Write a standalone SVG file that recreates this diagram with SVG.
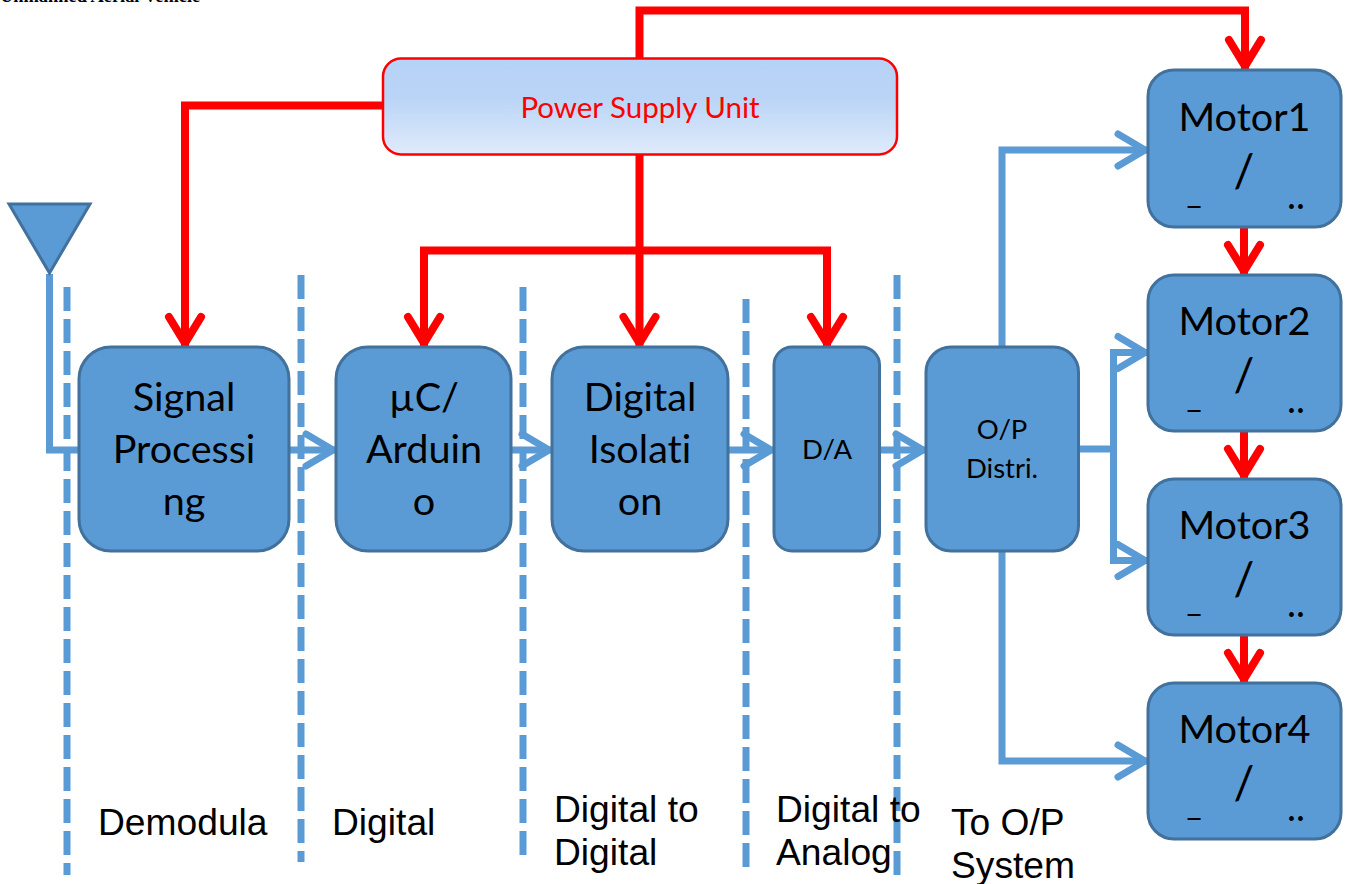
<svg xmlns="http://www.w3.org/2000/svg" width="1349" height="884" viewBox="0 0 1349 884">
<style>
.box{fill:#5b9bd5;stroke:#41719c;stroke-width:3}
.t{font-family:Lato,"Open Sans",sans-serif;fill:#000;text-anchor:middle;font-variant-ligatures:none}
.big{font-size:39.6px}
.slash{font-size:46px}
.mid{font-size:27.5px}
.us{font-size:33px}
.dots{font-size:38px}
.lab{font-family:"Liberation Sans",Arial,sans-serif;font-size:37.2px;fill:#000}
.dash{fill:none;stroke:#5b9bd5;stroke-width:7;stroke-dasharray:24 8}
.blue{fill:none;stroke:#5b9bd5;stroke-width:7;stroke-linejoin:miter;marker-end:url(#ab)}
.blue0{fill:none;stroke:#5b9bd5;stroke-width:7}
.red{fill:none;stroke:#f00;stroke-width:8;marker-end:url(#ar)}
</style>
<defs>
<linearGradient id="psu" x1="0" y1="0" x2="0" y2="1">
<stop offset="0" stop-color="#b6d2f6"/><stop offset="0.4" stop-color="#b9d4f6"/><stop offset="1" stop-color="#e0ebfb"/>
</linearGradient>
<marker id="ab" markerUnits="userSpaceOnUse" markerWidth="44" markerHeight="50" viewBox="-38 -25 44 50" refX="0" refY="0" orient="auto" overflow="visible">
<path d="M-30-16 -3 0 -30 16" fill="none" stroke="#5b9bd5" stroke-width="7" stroke-linecap="round" stroke-linejoin="miter" stroke-miterlimit="10"/>
</marker>
<marker id="ar" markerUnits="userSpaceOnUse" markerWidth="44" markerHeight="50" viewBox="-38 -25 44 50" refX="0" refY="0" orient="auto" overflow="visible">
<path d="M-30-16 -4 0 -30 16" fill="none" stroke="#f00" stroke-width="8" stroke-linecap="round" stroke-linejoin="miter" stroke-miterlimit="10"/>
</marker>
</defs>
<rect width="1349" height="884" fill="#fff"/>
<text x="0" y="2" font-family="Liberation Serif,serif" font-size="18.400" font-weight="bold" fill="#000">Unmanned Aerial Vehicle</text>
<g id="separators">
<path class="dash" d="M67 287V875"/>
<path class="dash" d="M301 275V862"/>
<path class="dash" d="M523 287V855"/>
<path class="dash" d="M746 299V867"/>
<path class="dash" d="M897 275V875"/>
</g>
<g id="connectors">
<path class="blue0" d="M49.500 274V450H79"/>
<path class="blue" d="M289 450H336"/>
<path class="blue" d="M511 450H552"/>
<path class="blue" d="M728 450H774"/>
<path class="blue" d="M880 450H926"/>
<path class="blue" d="M1002 347V150H1148"/>
<path class="blue" d="M1002 551V761H1148"/>
<path class="blue0" d="M1079 449H1117"/>
<path class="blue" d="M1148 352.500H1113.500V560.500H1148"/>
<path class="blue" d="M1113.500 352.500H1148"/>
<path class="red" d="M639.500 58V10.500H1245V70"/>
<path class="red" d="M383 105.500H185V347"/>
<path class="red" d="M639.500 154V347"/>
<path class="red" d="M639.500 250.500H424V347"/>
<path class="red" d="M639.500 250.500H827V347"/>
<path class="red" d="M1244 227V275"/>
<path class="red" d="M1244 431V479"/>
<path class="red" d="M1244 635V683"/>
</g>
<g id="antenna"><path class="box" d="M9 204H90L49.500 273Z"/></g>
<g id="psu-node">
<rect x="383" y="58.500" width="514" height="96" rx="18" fill="url(#psu)" stroke="#f00" stroke-width="2.500"/>
<text class="t" x="640" y="118" font-size="29.500" style="fill:#f00">Power Supply Unit</text>
</g>
<g id="signal"><rect class="box" x="79" y="347" width="210" height="204" rx="32"/>
<text class="t big" x="184" y="411">Signal</text><text class="t big" x="184" y="463">Processi</text><text class="t big" x="184" y="515">ng</text></g>
<g id="arduino"><rect class="box" x="336" y="347" width="175" height="204" rx="32"/>
<text class="t big" x="424" y="411">µC/</text><text class="t big" x="424" y="463">Arduin</text><text class="t big" x="424" y="515">o</text></g>
<g id="isolation"><rect class="box" x="552" y="347" width="176" height="204" rx="32"/>
<text class="t big" x="640" y="411">Digital</text><text class="t big" x="640" y="463">Isolati</text><text class="t big" x="640" y="515">on</text></g>
<g id="da"><rect class="box" x="774" y="347" width="105.500" height="204" rx="18"/>
<text class="t mid" x="827" y="459">D/A</text></g>
<g id="opdistri"><rect class="box" x="926" y="347" width="152.500" height="204" rx="25"/>
<text class="t mid" x="1002" y="439">O/P</text><text class="t mid" x="1002" y="478">Distri.</text></g>
<g id="motor1"><rect class="box" x="1148" y="70" width="193" height="157" rx="26"/>
<text class="t big" x="1244.500" y="131">Motor1</text><text class="t slash" x="1244" y="187">/</text><text class="t us" x="1194" y="203">_</text><text class="t dots" x="1296" y="209">..</text></g>
<g id="motor2"><rect class="box" x="1148" y="275" width="193" height="156" rx="26"/>
<text class="t big" x="1244.500" y="335">Motor2</text><text class="t slash" x="1244" y="391">/</text><text class="t us" x="1194" y="407">_</text><text class="t dots" x="1296" y="413">..</text></g>
<g id="motor3"><rect class="box" x="1148" y="479" width="193" height="156" rx="26"/>
<text class="t big" x="1244.500" y="539">Motor3</text><text class="t slash" x="1244" y="595">/</text><text class="t us" x="1194" y="611">_</text><text class="t dots" x="1296" y="617">..</text></g>
<g id="motor4"><rect class="box" x="1148" y="683" width="193" height="156" rx="26"/>
<text class="t big" x="1244.500" y="743">Motor4</text><text class="t slash" x="1244" y="799">/</text><text class="t us" x="1194" y="815">_</text><text class="t dots" x="1296" y="821">..</text></g>
<g id="labels">
<text class="lab" x="98" y="835">Demodula</text>
<text class="lab" x="332" y="835">Digital</text>
<text class="lab" x="554" y="822">Digital to</text><text class="lab" x="554" y="865">Digital</text>
<text class="lab" x="776" y="822">Digital to</text><text class="lab" x="776" y="865">Analog</text>
<text class="lab" x="951" y="835">To O/P</text><text class="lab" x="951" y="878">System</text>
</g>
</svg>
